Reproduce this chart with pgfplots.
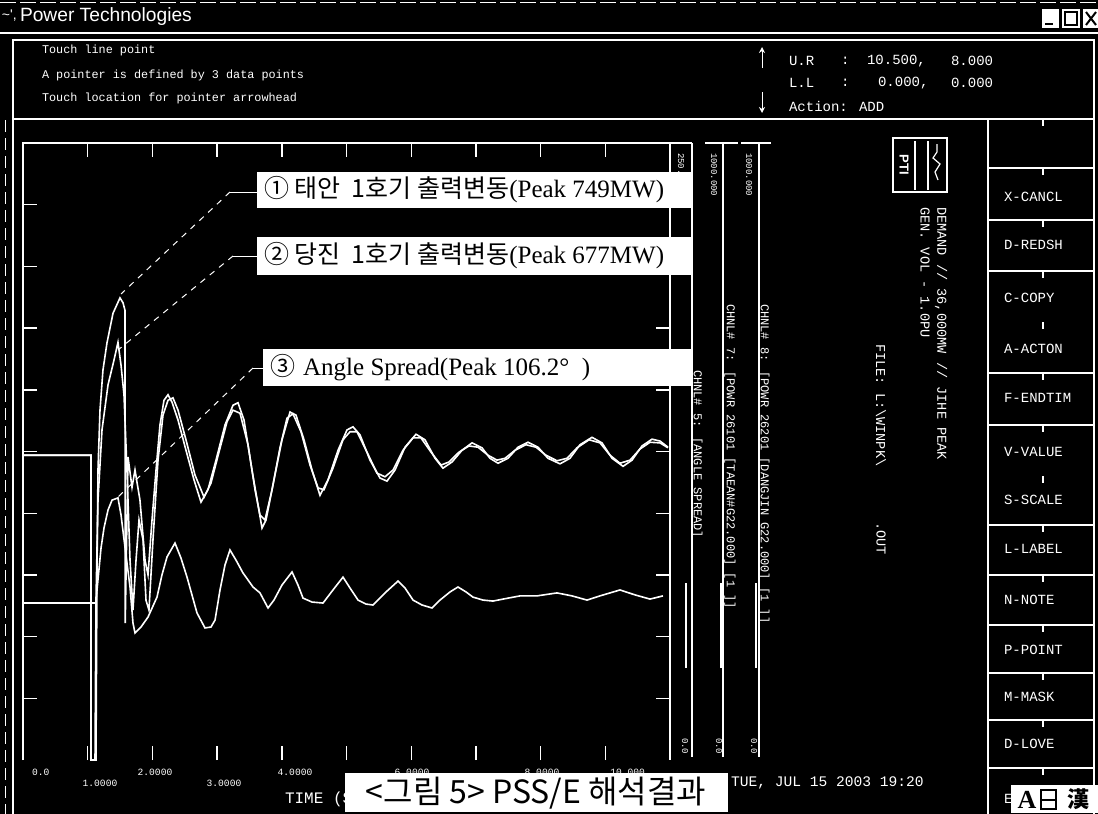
\documentclass[border=0pt]{standalone}
\usepackage{fontspec}
\usepackage{pgfplots}
\pgfplotsset{compat=1.18}
\usetikzlibrary{arrows.meta}
\newfontfamily\mono{Liberation Mono}
\newfontfamily\lsans{Liberation Sans}
\newfontfamily\lserif{Liberation Serif}
\newfontfamily\kr{Noto Sans CJK KR}
\newcommand\fs[1]{\fontsize{#1}{#1}\selectfont}
\begin{document}
\begin{tikzpicture}[x=0.5pt,y=-0.5pt,every node/.style={inner sep=0pt,outer sep=0pt}]
\fill[black] (0,0) rectangle (1098,814);
\useasboundingbox (0,0) rectangle (1098,814);
% ---------- title bar ----------
\draw[white,line width=0.5pt,dash pattern=on 8pt off 2pt] (0,2) -- (1098,2);
\draw[white,line width=0.8pt] (0,33) -- (1098,33);
\node[anchor=west,text=white,font=\lsans\fs{7pt}] at (2,16) {\textasciitilde'{,}};
\node[anchor=west,text=white,font=\lsans\fs{9.6pt}] at (20,17) {Power Technologies};
\fill[white] (1042,9) rectangle (1059,28);
\draw[black,line width=1.3pt] (1045,24) -- (1053,24);
\fill[white] (1062,9) rectangle (1080,28);
\draw[black,line width=0.8pt] (1065,12) rectangle (1077,25);
\fill[white] (1083,9) rectangle (1098,28);
\draw[black,line width=1pt] (1086,12) -- (1096,25) (1086,25) -- (1096,12);
% ---------- info box ----------
\draw[white,line width=0.7pt] (13,814) -- (13,40) -- (1094,40) -- (1094,814);
\draw[white,line width=0.7pt] (13,119) -- (1094,119);
\draw[white,line width=0.4pt,dash pattern=on 6pt off 3pt] (5,120) -- (5,814);
\begin{scope}[every node/.style={anchor=west,text=white,font=\mono\fs{5.9pt}}]
\node at (35,50) {Touch line point};
\node at (35,75) {A pointer is defined by 3 data points};
\node at (35,98) {Touch location for pointer arrowhead};
\end{scope}
\draw[white,line width=0.5pt,-{Stealth[length=3pt,width=3pt]}] (762,68) -- (762,47);
\draw[white,line width=0.5pt,-{Stealth[length=3pt,width=3pt]}] (762,92) -- (762,113);
\begin{scope}[every node/.style={anchor=west,text=white,font=\mono\fs{7pt}}]
\node at (782,61) {U.R};  \node at (834,61) {:}; \node at (860,61) {10.500,}; \node at (944,61) {8.000};
\node at (782,83) {L.L};  \node at (834,83) {:}; \node at (871,83) {0.000,};  \node at (944,83) {0.000};
\node at (782,106) {Action: ADD};
\end{scope}
% ---------- right menu panel ----------
\draw[white,line width=0.7pt] (988,119) -- (988,814);
\foreach \yy in {168,220,271,373,425,525,575,625,673,720,768}
  {\draw[white,line width=0.7pt] (988,\yy) -- (1094,\yy);
   \draw[white,line width=0.7pt] (1043,\yy) -- (1043,\yy+7);}
\foreach \yy in {119,322,476}
  {\draw[white,line width=0.7pt] (1043,\yy) -- (1043,\yy+7);}
\begin{scope}[every node/.style={anchor=west,text=white,font=\mono\fs{7pt}}]
\node at (997,197) {X-CANCL};
\node at (997,245) {D-REDSH};
\node at (997,298) {C-COPY};
\node at (997,349) {A-ACTON};
\node at (997,398) {F-ENDTIM};
\node at (997,452) {V-VALUE};
\node at (997,500) {S-SCALE};
\node at (997,549) {L-LABEL};
\node at (997,600) {N-NOTE};
\node at (997,650) {P-POINT};
\node at (997,697) {M-MASK};
\node at (997,744) {D-LOVE};
\node at (997,799) {E};
\end{scope}
\fill[white] (1011,785) rectangle (1098,813);
\node[text=black,font=\lserif\bfseries\fs{13pt}] at (1027,800) {A};
\draw[black,line width=0.8pt] (1041,790) rectangle (1056,809);
\draw[black,line width=0.6pt] (1041,800) -- (1056,800);
\node[text=black,font=\kr\bfseries\fs{11pt}] at (1078,799) {漢};
% ---------- frame and channel bars ----------
\draw[white,line width=0.8pt] (23,760) -- (23,143) -- (692,143);
\draw[white,line width=0.8pt] (670,143) -- (670,760);
\draw[white,line width=0.8pt] (692,143) -- (692,757);
\draw[white,line width=0.8pt] (705,143) -- (738,143) (723,143) -- (723,757);
\draw[white,line width=0.8pt] (741,143) -- (771,143) (759,143) -- (759,757);
\draw[white,line width=0.7pt] (686,583) -- (686,668);
\draw[white,line width=0.7pt] (721,583) -- (721,668);
\draw[white,line width=0.7pt] (756,583) -- (756,668);
\begin{scope}[every node/.style={rotate=-90,anchor=west,text=white,font=\mono\fs{4.5pt}}]
\node at (681,146) {250.0};
\node at (714,146) {1000.000};
\node at (749,146) {1000.000};
\node at (685,731) {0.0};
\node at (719,731) {0.0};
\node at (754,731) {0.0};
\end{scope}
\begin{scope}[every node/.style={rotate=-90,anchor=west,text=white,font=\mono\fs{6pt}}]
\node at (697,363) {CHNL\# 5: [ANGLE SPREAD]};
\node at (730,297) {CHNL\# 7: [POWR 26101 [TAEAN\#G22.000] [1 ]]};
\node at (764,297) {CHNL\# 8: [POWR 26201 [DANGJIN G22.000] [1 ]]};
\end{scope}
% logo and case description
\draw[white,line width=0.8pt] (893,138) rectangle (947,192);
\draw[white,line width=0.6pt] (915,141) -- (915,190) (928,141) -- (928,190);
\node[rotate=-90,text=white,font=\lsans\bfseries\fs{6.5pt}] at (904,165) {PTI};
\draw[white,line width=0.6pt] (937,144) -- (937,152) -- (933,158) -- (940,164) -- (935,172) -- (938,180);
\begin{scope}[every node/.style={rotate=-90,anchor=west,text=white,font=\mono\fs{6.8pt}}]
\node at (941,200) {DEMAND // 36,000MW // JIHE PEAK};
\node at (925,200) {GEN. VOL - 1.0PU};
\node at (881,337) {FILE: L:\textbackslash WINPK\textbackslash};
\node at (881,515) {.OUT};
\end{scope}
% ---------- x tick labels (visible ones), axis title, date ----------
\begin{scope}[every node/.style={text=white,font=\mono\fs{4.8pt}}]
\node[anchor=west] at (25,772) {0.0};
\node at (100,783) {1.0000};
\node at (155,772) {2.0000};
\node at (224,783) {3.0000};
\node at (295,772) {4.0000};
\node at (412,772) {6.0000};
\node at (542,772) {8.0000};
\node[anchor=east] at (652,772) {10.000};
\end{scope}
\node[anchor=west,text=white,font=\mono\fs{8pt}] at (285,799) {TIME (S};
\node[anchor=west,text=white,font=\mono\fs{7.3pt}] at (731,783) {TUE, JUL 15 2003  19:20};
% ---------- the plot ----------
\begin{scope}[x=1cm,y=1cm]
\begin{axis}[
  at={(11.5pt,-380pt)}, anchor=south west,
  scale only axis, width=323.5pt, height=308.5pt,
  xmin=0, xmax=10, ymin=0, ymax=1000,
  axis line style={draw=none},
  xtick={1,2,...,9}, ytick={100,200,...,900},
  xticklabels={}, yticklabels={},
  tick align=inside, major tick length=7pt,
  tick style={white,line width=0.7pt},
]
% Taean unit 1 power (MW)
\addplot[white,line width=0.8pt] coordinates {
(0,494) (1.051,494) (1.051,0) (1.128,0) (1.144,308) (1.159,470) (1.190,567) (1.236,632)
(1.298,676) (1.391,724) (1.499,749) (1.546,741) (1.576,729) (1.580,222) (1.623,491)
(1.685,442) (1.731,470) (1.808,421) (1.886,324) (1.932,300) (1.994,389) (2.056,470)
(2.117,543) (2.179,583) (2.241,592) (2.303,580) (2.396,551) (2.519,502) (2.643,454)
(2.751,418) (2.859,438) (2.983,486) (3.122,543) (3.246,575) (3.323,579) (3.416,551)
(3.539,470) (3.694,376) (3.756,389) (3.879,454) (4.003,519) (4.127,564) (4.219,559)
(4.343,519) (4.467,470) (4.590,429) (4.714,454) (4.869,502) (5.008,535) (5.100,540)
(5.209,527) (5.363,486) (5.518,457) (5.626,452) (5.750,470) (5.904,507) (6.074,528)
(6.213,519) (6.368,489) (6.491,473) (6.631,483) (6.785,502) (6.940,514) (7.094,506)
(7.218,489) (7.342,481) (7.496,489) (7.651,507) (7.805,515) (7.960,507) (8.114,489)
(8.300,480) (8.454,489) (8.609,511) (8.794,523) (8.949,514) (9.104,489) (9.274,476)
(9.413,486) (9.567,509) (9.722,520) (9.845,517) (9.969,507)};
% Dangjin unit 1 power (MW)
\addplot[white,line width=0.8pt] coordinates {
(0,494) (1.051,494) (1.051,0) (1.113,0) (1.128,259) (1.159,421) (1.221,535) (1.314,608)
(1.406,648) (1.468,677) (1.515,640) (1.561,592) (1.607,470) (1.654,324) (1.700,243)
(1.747,324) (1.793,389) (1.855,357) (1.901,259) (1.947,243) (2.009,357) (2.087,486)
(2.164,559) (2.241,583) (2.318,587) (2.396,567) (2.519,519) (2.658,462) (2.798,426)
(2.906,449) (3.029,499) (3.153,548) (3.246,567) (3.354,562) (3.478,511) (3.586,438)
(3.663,397) (3.740,389) (3.849,438) (3.972,506) (4.080,554) (4.173,561) (4.297,532)
(4.436,478) (4.560,441) (4.652,438) (4.791,473) (4.946,519) (5.054,532) (5.162,532)
(5.317,499) (5.471,465) (5.595,459) (5.719,470) (5.873,502) (6.028,522) (6.151,522)
(6.306,499) (6.461,478) (6.584,483) (6.739,499) (6.893,509) (7.032,507) (7.187,494)
(7.326,486) (7.450,489) (7.604,502) (7.774,511) (7.929,507) (8.083,494) (8.253,485)
(8.408,489) (8.563,506) (8.748,519) (8.918,514) (9.073,494) (9.227,481) (9.382,486)
(9.536,504) (9.691,515) (9.845,514) (9.969,506)};
\end{axis}
\begin{axis}[
  at={(11.5pt,-380pt)}, anchor=south west,
  scale only axis, width=323.5pt, height=308.5pt,
  xmin=0, xmax=10, ymin=0, ymax=250, hide axis,
]
% Angle spread (deg)
\addplot[white,line width=0.8pt] coordinates {
(0,63.6) (1.051,63.6) (1.128,63.6) (1.144,68.9) (1.206,85.9) (1.252,94.0) (1.314,101.3)
(1.376,105.3) (1.468,106.2) (1.515,99.3) (1.576,86.3) (1.654,70.1) (1.700,55.5)
(1.731,51.5) (1.824,53.9) (1.932,57.9) (2.071,66.0) (2.148,75.0) (2.226,82.3) (2.349,87.9)
(2.442,81.8) (2.535,74.1) (2.689,59.6) (2.813,53.5) (2.906,53.9) (2.968,56.7) (3.045,68.9)
(3.122,79.0) (3.199,85.1) (3.292,81.0) (3.400,75.8) (3.555,70.1) (3.663,67.7) (3.787,61.6)
(3.879,64.8) (4.003,70.9) (4.158,76.2) (4.250,70.9) (4.328,65.6) (4.467,64.0) (4.637,63.6)
(4.791,68.9) (4.946,74.1) (5.054,69.7) (5.178,64.8) (5.301,63.2) (5.410,62.8) (5.595,67.7)
(5.796,72.5) (5.904,69.7) (6.028,64.8) (6.167,62.8) (6.321,61.6) (6.445,64.8) (6.600,68.1)
(6.723,70.1) (6.847,68.1) (6.955,66.0) (7.110,64.8) (7.264,64.4) (7.419,65.2) (7.682,66.5)
(7.944,66.5) (8.253,67.7) (8.485,66.5) (8.717,64.8) (8.918,66.5) (9.227,68.9) (9.459,66.9)
(9.691,65.2) (9.892,66.5)};
\end{axis}
\end{scope}
% ---------- annotations ----------
\begin{scope}[white,line width=0.5pt]
\draw (230,192) -- (257,192);
\draw[dash pattern=on 3pt off 3pt] (230,192) -- (121,294);
\draw (233,256) -- (257,256);
\draw[dash pattern=on 3pt off 3pt] (233,256) -- (118,350);
\draw (253,368) -- (263,368);
\draw[dash pattern=on 3pt off 3pt] (253,368) -- (118,497);
\end{scope}
\fill[white] (257,172) rectangle (691,208);
\fill[white] (257,237) rectangle (691,275);
\fill[white] (263,349) rectangle (691,386);
\node[anchor=west,text=black,font=\fs{12.5pt}] at (264,190) {{\kr ①\ 태안\ \ 1호기\ 출력변동}{\lserif (Peak 749MW)}};
\node[anchor=west,text=black,font=\fs{12.5pt}] at (264,256) {{\kr ②\ 당진\ \ 1호기\ 출력변동}{\lserif (Peak 677MW)}};
\node[anchor=west,text=black,font=\fs{12.5pt}] at (270,368) {{\kr ③}\ {\lserif Angle Spread(Peak 106.2\textdegree\ \ )}};
\fill[white] (345,773) rectangle (728,812);
\node[text=black,font=\kr\fs{16pt}] at (536,793) {<그림 5> PSS/E 해석결과};
\end{tikzpicture}
\end{document}
